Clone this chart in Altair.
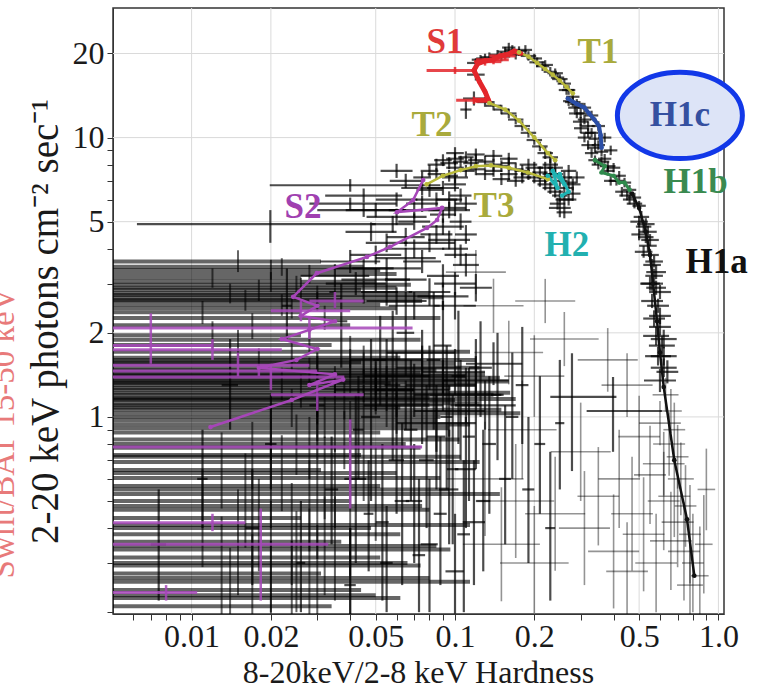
import altair as alt
import pandas as pd

FONT = "Liberation Serif"

# ---------------- axes ----------------
X_DOMAIN = [0.00503, 1.05]
Y_DOMAIN = [0.197, 29.1]
x_major = [0.01, 0.02, 0.05, 0.1, 0.2, 0.5, 1.0]
x_major_labels = ["0.01", "0.02", "0.05", "0.1", "0.2", "0.5", "1.0"]
x_minor = [0.006, 0.007, 0.008, 0.009, 0.03, 0.04, 0.06, 0.07, 0.08, 0.09,
           0.3, 0.4, 0.6, 0.7, 0.8, 0.9]
y_major = [1, 2, 5, 10, 20]
y_major_labels = ["1", "2", "5", "10", "20"]
y_minor = [0.2, 0.3, 0.4, 0.5, 0.6, 0.7, 0.8, 0.9, 3, 4, 6, 7, 8, 9]

# ---------------- black error-bar crosses ----------------
# (hardness, flux, x error factor, y error factor)
arc_crosses = [
    # S1 / T1 top of the arc
    (0.125, 19.0, 1.08, 1.04), (0.135, 19.4, 1.08, 1.04), (0.145, 19.8, 1.07, 1.04),
    (0.155, 20.3, 1.07, 1.04), (0.165, 20.6, 1.07, 1.04), (0.175, 20.4, 1.07, 1.04),
    (0.19, 19.6, 1.07, 1.04), (0.205, 18.6, 1.07, 1.04), (0.215, 18.0, 1.06, 1.04),
    (0.23, 17.2, 1.06, 1.04), (0.245, 16.4, 1.06, 1.04), (0.26, 15.6, 1.06, 1.04),
    (0.27, 14.8, 1.06, 1.04), (0.28, 14.0, 1.06, 1.04), (0.29, 13.2, 1.06, 1.04),
    (0.12, 18.5, 1.08, 1.04), (0.13, 19.2, 1.08, 1.04), (0.15, 19.5, 1.08, 1.04),
    (0.17, 19.8, 1.08, 1.04), (0.16, 21.0, 1.06, 1.04), (0.185, 20.6, 1.06, 1.04),
    (0.12, 16.8, 1.08, 1.05), (0.2, 19.2, 1.07, 1.04), (0.22, 18.2, 1.07, 1.04),
    (0.24, 17.0, 1.07, 1.04), (0.25, 16.2, 1.07, 1.04), (0.265, 14.8, 1.07, 1.04),
    # H1c band
    (0.27, 13.5, 1.05, 1.04), (0.285, 12.8, 1.06, 1.04), (0.30, 12.2, 1.06, 1.04),
    (0.31, 11.6, 1.06, 1.04), (0.32, 11.0, 1.06, 1.04), (0.33, 10.4, 1.06, 1.04),
    (0.34, 9.9, 1.06, 1.04), (0.35, 9.4, 1.06, 1.04), (0.36, 8.9, 1.06, 1.04),
    (0.37, 8.4, 1.06, 1.04), (0.30, 10.8, 1.06, 1.04), (0.31, 10.0, 1.06, 1.04),
    (0.32, 9.4, 1.06, 1.04), (0.33, 8.8, 1.06, 1.04), (0.34, 8.3, 1.06, 1.04),
    (0.31, 12.8, 1.06, 1.04), (0.33, 12.0, 1.06, 1.04), (0.35, 11.0, 1.06, 1.04),
    (0.37, 10.0, 1.06, 1.04), (0.39, 9.0, 1.06, 1.04), (0.35, 8.0, 1.06, 1.04),
    (0.38, 7.6, 1.06, 1.04), (0.28, 13.4, 1.07, 1.04), (0.29, 12.2, 1.07, 1.04),
    (0.3, 11.4, 1.07, 1.04), (0.32, 10.4, 1.07, 1.04), (0.34, 9.2, 1.07, 1.04),
    (0.36, 8.2, 1.07, 1.04), (0.38, 7.9, 1.07, 1.04),
    # H1b
    (0.40, 7.8, 1.06, 1.04), (0.42, 7.3, 1.06, 1.04), (0.44, 6.9, 1.06, 1.04),
    (0.46, 6.5, 1.06, 1.04), (0.48, 6.1, 1.06, 1.04), (0.50, 5.7, 1.06, 1.04),
    (0.43, 6.4, 1.06, 1.04), (0.46, 6.0, 1.06, 1.04), (0.39, 7.0, 1.06, 1.04),
    (0.41, 7.0, 1.07, 1.04), (0.45, 6.2, 1.07, 1.04), (0.48, 5.8, 1.07, 1.04),
    # H1a upper
    (0.51, 5.2, 1.07, 1.05), (0.52, 4.8, 1.07, 1.05), (0.53, 4.4, 1.07, 1.05),
    (0.54, 4.1, 1.08, 1.05), (0.55, 3.8, 1.08, 1.05), (0.56, 3.5, 1.08, 1.05),
    (0.50, 4.5, 1.07, 1.05), (0.52, 3.9, 1.08, 1.05), (0.57, 3.2, 1.08, 1.06),
    (0.55, 3.0, 1.09, 1.06), (0.58, 2.9, 1.09, 1.06), (0.56, 2.6, 1.1, 1.06),
    (0.59, 2.5, 1.1, 1.06), (0.57, 2.25, 1.1, 1.07), (0.60, 2.1, 1.1, 1.07),
    (0.58, 1.95, 1.12, 1.08), (0.61, 1.8, 1.12, 1.08), (0.59, 1.65, 1.12, 1.08),
    (0.62, 1.5, 1.12, 1.08), (0.64, 1.45, 1.1, 1.1), (0.60, 1.35, 1.15, 1.1),
    (0.53, 4.9, 1.08, 1.05), (0.54, 4.6, 1.08, 1.05), (0.5, 5.0, 1.08, 1.05),
    (0.55, 4.3, 1.08, 1.05), (0.57, 3.6, 1.08, 1.05), (0.58, 3.3, 1.09, 1.06),
    (0.56, 3.0, 1.1, 1.06), (0.6, 2.8, 1.1, 1.06), (0.6, 2.3, 1.1, 1.07),
    (0.62, 1.9, 1.12, 1.08), (0.62, 1.65, 1.12, 1.08),
    # T2
    (0.13, 13.4, 1.07, 1.04), (0.14, 13.0, 1.07, 1.04), (0.15, 12.6, 1.07, 1.04),
    (0.16, 12.2, 1.07, 1.04), (0.17, 11.6, 1.07, 1.04), (0.18, 11.0, 1.07, 1.04),
    (0.19, 10.4, 1.07, 1.04), (0.2, 9.8, 1.07, 1.04), (0.21, 9.3, 1.07, 1.04),
    (0.22, 8.8, 1.07, 1.05), (0.23, 8.5, 1.07, 1.05), (0.118, 13.8, 1.1, 1.06),
    (0.11, 12.6, 1.05, 1.08),
    # T3 / H2 arc
    (0.075, 7.2, 1.08, 1.05), (0.08, 7.6, 1.08, 1.05), (0.085, 8.0, 1.08, 1.05),
    (0.09, 8.3, 1.08, 1.05), (0.095, 8.1, 1.08, 1.05), (0.1, 8.4, 1.08, 1.05),
    (0.105, 8.2, 1.07, 1.05), (0.11, 8.5, 1.07, 1.05), (0.115, 8.1, 1.07, 1.05),
    (0.12, 8.3, 1.07, 1.05), (0.13, 8.2, 1.07, 1.05), (0.14, 8.0, 1.07, 1.05),
    (0.15, 7.9, 1.07, 1.05), (0.16, 8.1, 1.07, 1.05), (0.17, 7.7, 1.07, 1.05),
    (0.18, 7.6, 1.07, 1.05), (0.19, 7.4, 1.07, 1.05), (0.2, 7.2, 1.07, 1.05),
    (0.21, 7.5, 1.07, 1.05), (0.22, 7.8, 1.07, 1.05), (0.23, 8.0, 1.07, 1.05),
    (0.24, 7.4, 1.07, 1.05), (0.25, 7.0, 1.07, 1.05), (0.26, 6.6, 1.07, 1.05),
    (0.27, 6.9, 1.07, 1.05), (0.28, 6.3, 1.07, 1.06), (0.26, 6.0, 1.08, 1.06),
    (0.25, 5.6, 1.1, 1.08), (0.24, 6.4, 1.07, 1.05), (0.22, 6.8, 1.07, 1.05),
    (0.21, 7.0, 1.07, 1.05), (0.29, 7.2, 1.07, 1.05), (0.27, 7.6, 1.07, 1.05),
    (0.095, 7.3, 1.08, 1.05), (0.11, 7.6, 1.08, 1.05), (0.13, 7.4, 1.08, 1.05),
    (0.15, 7.1, 1.08, 1.05), (0.17, 7.0, 1.08, 1.05), (0.06, 7.6, 1.15, 1.06),
    (0.065, 7.0, 1.15, 1.06), (0.085, 7.4, 1.08, 1.05), (0.1, 7.8, 1.08, 1.05),
    (0.12, 7.7, 1.08, 1.05), (0.14, 7.6, 1.08, 1.05), (0.16, 7.4, 1.08, 1.05),
    (0.18, 7.2, 1.08, 1.05), (0.1, 8.8, 1.08, 1.05), (0.12, 8.7, 1.08, 1.05),
    (0.14, 8.6, 1.08, 1.05), (0.16, 8.4, 1.08, 1.05), (0.19, 8.0, 1.08, 1.05),
    (0.2, 7.8, 1.08, 1.05),
    # H2 cluster
    (0.22, 7.2, 1.07, 1.05), (0.23, 6.6, 1.07, 1.05), (0.24, 7.8, 1.07, 1.05),
    (0.25, 6.2, 1.07, 1.05), (0.26, 7.2, 1.07, 1.05), (0.27, 6.0, 1.07, 1.05),
    (0.28, 6.8, 1.07, 1.05), (0.23, 7.4, 1.07, 1.05), (0.245, 5.8, 1.07, 1.05),
    (0.26, 5.4, 1.07, 1.05),
    # S2 branch
    (0.1, 6.8, 1.1, 1.06), (0.105, 6.2, 1.1, 1.06), (0.1, 5.6, 1.1, 1.07),
    (0.105, 5.0, 1.1, 1.07), (0.11, 4.5, 1.1, 1.08), (0.1, 4.0, 1.12, 1.08),
    (0.095, 6.0, 1.12, 1.07), (0.09, 5.3, 1.12, 1.07), (0.085, 4.5, 1.15, 1.08),
    (0.08, 6.5, 1.12, 1.06), (0.075, 5.8, 1.15, 1.07), (0.07, 5.0, 1.15, 1.07),
    (0.065, 4.4, 1.18, 1.08), (0.06, 6.0, 1.2, 1.06), (0.058, 4.9, 1.2, 1.07),
    (0.055, 4.2, 1.2, 1.08), (0.05, 3.8, 1.25, 1.08), (0.048, 4.6, 1.25, 1.08),
    (0.045, 3.4, 1.3, 1.1), (0.04, 3.6, 1.3, 1.1), (0.042, 3.0, 1.3, 1.1),
    (0.035, 3.2, 1.35, 1.1), (0.11, 3.5, 1.12, 1.1), (0.09, 3.2, 1.15, 1.1),
    (0.075, 3.6, 1.18, 1.1), (0.065, 3.1, 1.2, 1.1), (0.08, 2.8, 1.2, 1.12),
    (0.12, 2.9, 1.15, 1.12), (0.1, 2.5, 1.2, 1.12), (0.07, 2.5, 1.25, 1.12),
    (0.055, 2.8, 1.25, 1.12), (0.05, 5.5, 1.3, 1.06), (0.045, 6.2, 1.4, 1.06),
    (0.07, 4.0, 1.3, 1.08), (0.08, 4.2, 1.25, 1.08), (0.09, 4.8, 1.2, 1.07),
    (0.095, 5.5, 1.2, 1.07), (0.085, 6.0, 1.2, 1.06), (0.075, 6.6, 1.2, 1.06),
    (0.07, 5.5, 1.25, 1.07), (0.06, 5.2, 1.3, 1.07), (0.065, 3.7, 1.3, 1.09),
    (0.055, 3.4, 1.35, 1.09), (0.05, 3.1, 1.35, 1.1), (0.045, 2.8, 1.35, 1.1),
    (0.06, 2.6, 1.3, 1.12), (0.09, 2.7, 1.25, 1.12), (0.1, 3.0, 1.2, 1.1),
    (0.105, 3.8, 1.15, 1.09), (0.095, 4.3, 1.2, 1.08), (0.11, 5.8, 1.1, 1.06),
    (0.1, 7.2, 1.12, 1.05), (0.09, 6.6, 1.15, 1.06),
]

# faint, large-error crosses: H1a tail and the hard low-flux region
sparse_crosses = [
    (0.63, 1.2, 1.12, 1.15), (0.66, 1.05, 1.1, 1.2), (0.6, 0.95, 1.2, 1.2),
    (0.68, 0.9, 1.1, 1.25), (0.65, 0.8, 1.15, 1.3), (0.7, 0.72, 1.1, 1.3),
    (0.62, 0.68, 1.2, 1.3), (0.72, 0.6, 1.12, 1.35), (0.68, 0.52, 1.15, 1.4),
    (0.75, 0.48, 1.1, 1.4), (0.7, 0.42, 1.15, 1.45), (0.78, 0.38, 1.1, 1.5),
    (0.74, 0.33, 1.15, 1.5), (0.8, 0.3, 1.1, 1.5), (0.85, 0.27, 1.08, 1.5),
    (0.66, 0.36, 1.2, 1.5), (0.78, 0.25, 1.12, 1.4),
    (0.24, 0.45, 1.3, 1.6), (0.31, 0.40, 1.25, 1.6), (0.35, 0.52, 1.2, 1.5),
    (0.40, 0.33, 1.25, 1.6), (0.42, 0.6, 1.2, 1.5), (0.45, 0.28, 1.2, 1.5),
    (0.47, 0.45, 1.2, 1.6), (0.52, 0.38, 1.2, 1.6), (0.55, 0.62, 1.15, 1.5),
    (0.58, 0.3, 1.2, 1.5), (0.62, 0.5, 1.15, 1.5), (0.88, 0.35, 1.08, 1.5),
    (0.9, 0.55, 1.08, 1.4), (0.5, 0.85, 1.2, 1.4), (0.45, 1.3, 1.25, 1.3),
    (0.38, 1.6, 1.3, 1.3), (0.3, 0.75, 1.3, 1.5), (0.26, 1.9, 1.35, 1.25),
    (0.22, 2.6, 1.3, 1.2), (0.2, 1.4, 1.3, 1.4), (0.18, 0.9, 1.35, 1.5),
    (0.17, 0.5, 1.4, 1.6), (0.2, 0.3, 1.35, 1.6), (0.15, 0.35, 1.4, 1.6),
    (0.13, 0.6, 1.4, 1.6), (0.16, 1.7, 1.35, 1.3), (0.14, 2.5, 1.3, 1.25),
    (0.12, 3.3, 1.3, 1.2),
]

# (hardness, flux, x low, x high, y low, y high)
cloud_crosses = [
    (0.04, 6.75, 0.0198, 0.088, 6.4, 7.1), (0.0199, 4.9, 0.0062, 0.05, 4.2, 5.5),
    (0.04, 5.8, 0.028, 0.06, 5.5, 6.1), (0.045, 5.5, 0.03, 0.065, 5.2, 5.8),
    (0.278, 1.18, 0.23, 0.41, 0.64, 1.69), (0.398, 1.05, 0.316, 0.61, 0.75, 1.39),
    (0.0075, 0.35, 0.007, 0.008, 0.22, 0.55), (0.011, 0.6, 0.0105, 0.0115, 0.4, 0.9),
    (0.014, 1.3, 0.013, 0.015, 0.9, 1.9), (0.017, 0.4, 0.016, 0.018, 0.25, 0.65),
    (0.02, 0.8, 0.019, 0.021, 0.55, 1.2), (0.023, 2.5, 0.022, 0.024, 1.9, 3.4),
    (0.026, 0.3, 0.025, 0.027, 0.2, 0.5), (0.03, 1.1, 0.028, 0.032, 0.7, 1.7),
    (0.034, 0.55, 0.032, 0.036, 0.35, 0.85), (0.037, 2.2, 0.035, 0.039, 1.5, 3.0),
    (0.04, 0.25, 0.038, 0.042, 0.19, 0.4), (0.043, 0.9, 0.041, 0.045, 0.6, 1.4),
    (0.047, 0.45, 0.045, 0.049, 0.28, 0.7), (0.052, 1.6, 0.049, 0.055, 1.1, 2.3),
    (0.055, 0.3, 0.052, 0.058, 0.2, 0.48), (0.06, 0.7, 0.056, 0.064, 0.45, 1.1),
    (0.065, 2.0, 0.06, 0.07, 1.4, 2.8), (0.07, 0.5, 0.065, 0.075, 0.3, 0.8),
    (0.075, 1.2, 0.07, 0.08, 0.8, 1.8), (0.08, 0.35, 0.074, 0.086, 0.2, 0.6),
    (0.085, 0.85, 0.078, 0.092, 0.55, 1.3), (0.09, 1.8, 0.083, 0.097, 1.2, 2.6),
    (0.095, 0.55, 0.087, 0.103, 0.35, 0.9), (0.1, 0.28, 0.092, 0.108, 0.19, 0.45),
    (0.105, 1.1, 0.096, 0.114, 0.7, 1.6), (0.11, 0.65, 0.1, 0.12, 0.4, 1.0),
    (0.118, 0.42, 0.107, 0.13, 0.25, 0.7), (0.125, 1.5, 0.113, 0.138, 1.0, 2.2),
    (0.06, 1.4, 0.045, 0.08, 1.15, 1.7), (0.07, 1.25, 0.05, 0.095, 1.0, 1.55),
    (0.08, 1.5, 0.06, 0.105, 1.25, 1.8), (0.09, 1.3, 0.065, 0.12, 1.05, 1.6),
    (0.1, 1.45, 0.075, 0.13, 1.2, 1.75), (0.11, 1.2, 0.08, 0.15, 0.95, 1.5),
    (0.065, 1.1, 0.045, 0.09, 0.9, 1.35), (0.055, 1.6, 0.04, 0.075, 1.35, 1.9),
    (0.075, 1.7, 0.055, 0.1, 1.4, 2.05), (0.12, 1.35, 0.09, 0.16, 1.1, 1.65),
    (0.095, 1.05, 0.07, 0.13, 0.85, 1.3), (0.13, 1.1, 0.1, 0.17, 0.9, 1.35),
    (0.05, 1.25, 0.035, 0.07, 1.05, 1.5), (0.085, 0.95, 0.06, 0.12, 0.75, 1.2),
    (0.14, 1.55, 0.11, 0.18, 1.3, 1.85),
    (0.042, 0.6, 0.038, 0.046, 0.3, 1.2), (0.048, 1.0, 0.044, 0.052, 0.5, 1.9),
    (0.053, 0.42, 0.05, 0.056, 0.22, 0.8), (0.058, 1.3, 0.054, 0.062, 0.7, 2.4),
    (0.063, 0.5, 0.059, 0.067, 0.25, 0.95), (0.068, 0.9, 0.064, 0.072, 0.5, 1.6),
    (0.073, 0.32, 0.069, 0.077, 0.2, 0.6), (0.078, 0.7, 0.073, 0.083, 0.4, 1.3),
    (0.083, 1.6, 0.078, 0.088, 0.9, 2.8), (0.088, 0.45, 0.083, 0.093, 0.25, 0.85),
    (0.093, 1.0, 0.088, 0.098, 0.55, 1.8), (0.098, 0.65, 0.093, 0.103, 0.35, 1.2),
    (0.103, 1.4, 0.097, 0.109, 0.8, 2.4), (0.108, 0.38, 0.102, 0.114, 0.2, 0.7),
    (0.113, 0.85, 0.107, 0.119, 0.5, 1.5), (0.12, 1.1, 0.114, 0.126, 0.65, 1.9),
    (0.128, 0.5, 0.12, 0.136, 0.28, 0.9), (0.135, 0.8, 0.127, 0.143, 0.45, 1.4),
    (0.145, 1.2, 0.137, 0.153, 0.7, 2.0), (0.155, 0.6, 0.147, 0.163, 0.35, 1.1),
    (0.165, 1.0, 0.156, 0.174, 0.6, 1.7), (0.18, 1.3, 0.17, 0.19, 0.8, 2.1),
    (0.19, 0.55, 0.18, 0.2, 0.3, 1.0), (0.21, 0.8, 0.2, 0.22, 0.45, 1.4),
    (0.23, 0.4, 0.22, 0.24, 0.22, 0.75), (0.25, 0.95, 0.24, 0.26, 0.55, 1.6),
]

# soft-state rows whose left ends lie beyond the axis: (hardness, flux, x high, y low, y high)
BAND_LEFT = 0.004
band_rows = [
    (0.015, 3.6, 0.031, 3.3, 3.95), (0.02, 3.36, 0.052, 3.1, 3.65),
    (0.012, 3.14, 0.026, 2.9, 3.4), (0.025, 2.97, 0.068, 2.75, 3.2),
    (0.018, 2.85, 0.044, 2.6, 3.1), (0.03, 2.73, 0.08, 2.5, 2.95),
    (0.016, 2.62, 0.037, 2.4, 2.85), (0.022, 2.52, 0.052, 2.3, 2.75),
    (0.011, 2.37, 0.026, 2.15, 2.6), (0.032, 2.26, 0.088, 2.05, 2.5),
    (0.017, 2.13, 0.04, 1.9, 2.35), (0.012, 1.96, 0.026, 1.75, 2.2),
    (0.028, 1.89, 0.074, 1.7, 2.1), (0.015, 1.81, 0.034, 1.6, 2.05),
    (0.04, 1.71, 0.114, 1.5, 1.95), (0.024, 1.63, 0.062, 1.45, 1.85),
    (0.018, 1.57, 0.044, 1.4, 1.76), (0.045, 1.50, 0.124, 1.32, 1.7),
    (0.028, 1.44, 0.074, 1.27, 1.63), (0.05, 1.38, 0.148, 1.2, 1.58),
    (0.022, 1.32, 0.057, 1.15, 1.5), (0.035, 1.27, 0.096, 1.1, 1.45),
    (0.055, 1.22, 0.162, 1.05, 1.4), (0.03, 1.17, 0.08, 1.0, 1.35),
    (0.045, 1.12, 0.124, 0.95, 1.3), (0.024, 1.08, 0.062, 0.92, 1.26),
    (0.06, 1.03, 0.177, 0.87, 1.22), (0.032, 1.0, 0.088, 0.84, 1.18),
    (0.04, 0.94, 0.114, 0.77, 1.14), (0.02, 0.88, 0.052, 0.7, 1.1),
    (0.038, 0.83, 0.104, 0.65, 1.05), (0.028, 0.775, 0.074, 0.6, 1.0),
    (0.017, 0.73, 0.044, 0.55, 0.96), (0.045, 0.69, 0.124, 0.5, 0.95),
    (0.013, 0.646, 0.031, 0.47, 0.88), (0.032, 0.605, 0.088, 0.43, 0.85),
    (0.02, 0.566, 0.052, 0.4, 0.8), (0.05, 0.53, 0.148, 0.36, 0.78),
    (0.016, 0.50, 0.04, 0.34, 0.74), (0.03, 0.465, 0.08, 0.31, 0.7),
    (0.011, 0.435, 0.026, 0.29, 0.65), (0.04, 0.41, 0.114, 0.27, 0.62),
    (0.024, 0.38, 0.062, 0.25, 0.58), (0.015, 0.357, 0.037, 0.23, 0.55),
    (0.035, 0.335, 0.096, 0.22, 0.52), (0.02, 0.314, 0.052, 0.2, 0.5),
    (0.028, 0.294, 0.074, 0.19, 0.47), (0.013, 0.275, 0.031, 0.18, 0.44),
    (0.04, 0.257, 0.114, 0.17, 0.4), (0.017, 0.24, 0.044, 0.16, 0.38),
    (0.024, 0.225, 0.062, 0.15, 0.36), (0.014, 0.21, 0.034, 0.14, 0.34),
    (0.02, 3.05, 0.05, 2.8, 3.3), (0.026, 2.9, 0.06, 2.65, 3.15),
    (0.014, 2.78, 0.035, 2.55, 3.0), (0.035, 2.68, 0.09, 2.45, 2.9),
    (0.04, 1.55, 0.1, 1.38, 1.75), (0.03, 1.47, 0.085, 1.3, 1.65),
    (0.05, 1.42, 0.13, 1.25, 1.6), (0.035, 1.35, 0.1, 1.18, 1.52),
    (0.045, 1.3, 0.12, 1.13, 1.48), (0.026, 1.25, 0.07, 1.08, 1.42),
    (0.05, 1.2, 0.14, 1.02, 1.38), (0.038, 1.15, 0.1, 0.98, 1.32),
    (0.03, 1.1, 0.08, 0.94, 1.28), (0.028, 3.25, 0.06, 3.0, 3.5),
    (0.022, 3.45, 0.045, 3.2, 3.7), (0.03, 2.6, 0.075, 2.4, 2.8),
    (0.024, 2.45, 0.06, 2.25, 2.65), (0.045, 1.6, 0.12, 1.42, 1.8),
    (0.055, 1.34, 0.16, 1.18, 1.52), (0.06, 1.16, 0.17, 1.0, 1.33),
    (0.055, 1.06, 0.15, 0.92, 1.22), (0.04, 1.4, 0.11, 1.22, 1.6),
    (0.03, 0.97, 0.085, 0.82, 1.15), (0.035, 0.91, 0.095, 0.75, 1.1),
    (0.025, 0.8, 0.065, 0.62, 1.02), (0.04, 0.72, 0.105, 0.55, 0.95),
    (0.022, 0.63, 0.06, 0.46, 0.86), (0.035, 0.55, 0.095, 0.4, 0.78),
    (0.028, 0.48, 0.075, 0.33, 0.7), (0.018, 0.4, 0.048, 0.28, 0.6),
    (0.032, 0.345, 0.085, 0.23, 0.52), (0.025, 0.3, 0.066, 0.2, 0.46),
    (0.03, 0.265, 0.08, 0.18, 0.41), (0.02, 0.23, 0.05, 0.16, 0.36),
]

# ---------------- coloured state tracks ----------------
track_S1 = [(0.178, 20.0), (0.168, 20.4), (0.158, 19.8), (0.148, 19.6), (0.14, 19.0),
            (0.13, 18.8), (0.122, 18.4), (0.118, 17.4), (0.124, 15.8), (0.13, 14.6),
            (0.134, 13.6), (0.12, 13.6)]
track_T1 = [(0.175, 20.2), (0.19, 19.5), (0.205, 18.5), (0.22, 17.6), (0.235, 16.8),
            (0.25, 16.0), (0.265, 15.2), (0.28, 14.4)]
track_H1c = [(0.268, 13.8), (0.29, 13.2), (0.31, 12.8), (0.323, 12.2), (0.338, 11.6),
             (0.352, 11.0), (0.357, 10.2), (0.36, 9.2)]
track_H1b = [(0.34, 8.3), (0.37, 7.9), (0.36, 7.5), (0.4, 7.3), (0.42, 6.9),
             (0.44, 6.9), (0.46, 6.5)]
track_H1a = [(0.47, 6.3), (0.5, 5.6), (0.53, 4.6), (0.55, 3.8), (0.565, 3.0),
             (0.585, 2.2), (0.6, 1.7), (0.62, 1.28), (0.68, 0.7), (0.76, 0.43),
             (0.81, 0.27)]
track_T2 = [(0.135, 13.3), (0.155, 12.6), (0.175, 11.5), (0.2, 10.0), (0.225, 8.8),
            (0.24, 8.3)]
track_T3 = [(0.078, 6.8), (0.09, 7.3), (0.105, 7.65), (0.12, 7.9), (0.137, 7.95),
            (0.16, 7.8), (0.189, 7.5), (0.225, 7.1)]
track_H2 = [(0.225, 7.3), (0.245, 6.6), (0.235, 7.6), (0.26, 6.8), (0.25, 7.4),
            (0.27, 6.4), (0.255, 6.2)]
track_S2 = [(0.0757, 7.05), (0.0693, 5.97), (0.0603, 5.41), (0.0893, 5.6), (0.0855, 5.07),
            (0.0783, 4.75), (0.0567, 4.06), (0.0463, 3.74), (0.0299, 3.27), (0.0243, 2.69),
            (0.03, 2.5), (0.026, 2.3), (0.035, 2.2), (0.028, 2.05), (0.022, 1.9),
            (0.03, 1.75), (0.025, 1.6), (0.018, 1.5), (0.035, 1.42), (0.028, 1.3),
            (0.0376, 1.36), (0.024, 1.15), (0.0118, 0.92)]

# coloured error bars: (hardness, flux, x low, x high, y low, y high)
bars_S1 = [(0.1, 17.4, 0.078, 0.118, 16.9, 17.9), (0.118, 13.6, 0.101, 0.135, 13.2, 14.0),
           (0.14, 19.0, 0.12, 0.16, 18.3, 19.7), (0.155, 19.6, 0.135, 0.17, 19.0, 20.2),
           (0.13, 18.7, 0.118, 0.15, 18.1, 19.3)]
bars_S2 = [(0.028, 2.08, 0.004, 0.069, 1.9, 2.3), (0.015, 1.53, 0.004, 0.028, 1.4, 1.7),
           (0.02, 1.39, 0.004, 0.038, 1.25, 1.55), (0.012, 1.74, 0.004, 0.022, 1.6, 1.9),
           (0.04, 0.78, 0.004, 0.075, 0.47, 0.98), (0.0183, 0.35, 0.004, 0.033, 0.22, 0.47),
           (0.012, 0.418, 0.004, 0.016, 0.39, 0.45), (0.008, 0.235, 0.004, 0.0105, 0.22, 0.25),
           (0.007, 1.8, 0.004, 0.012, 1.55, 2.35), (0.03, 1.2, 0.02, 0.045, 1.05, 1.35),
           (0.026, 2.4, 0.02, 0.04, 2.2, 2.6), (0.035, 2.6, 0.028, 0.045, 2.45, 2.8),
           (0.018, 1.46, 0.004, 0.03, 1.4, 1.52)]

track_names = ["S1", "T1", "H1c", "H1b", "H1a", "T2", "T3", "H2", "S2"]
track_colors = ["#e3262b", "#b9b93a", "#2b4ea6", "#2f8a4c", "#111111", "#b9b93a",
                "#b9b93a", "#1fb3b3", "#a646b8"]
track_widths = [5, 2.5, 4, 3, 2.5, 2.5, 2.5, 3, 2.5]
tracks = [track_S1, track_T1, track_H1c, track_H1b, track_H1a, track_T2, track_T3,
          track_H2, track_S2]

# ---------------- state labels ----------------
label_text = ["S1", "T1", "H1c", "T2", "H1b", "S2", "T3", "H2", "H1a"]
label_x = [0.0917, 0.349, 0.714, 0.0818, 0.82, 0.0265, 0.1406, 0.266, 0.985]
label_y = [22.0, 20.2, 12.0, 11.1, 6.93, 5.64, 5.69, 4.12, 3.59]
label_color = ["#e03a3a", "#a9aa3c", "#3550a0", "#a9aa3c", "#3a8a50", "#a040b0",
               "#a9aa3c", "#22b0b0", "#111111"]
highlight_x = [0.714]
highlight_y = [12.0]

# ---------------- data frames ----------------
def sym_rows(pts):
    return [dict(x=x, y=y, xlo=x / fx, xhi=x * fx, ylo=y / fy, yhi=y * fy)
            for x, y, fx, fy in pts]


rows = sym_rows(arc_crosses)
for x, y, xlo, xhi, ylo, yhi in cloud_crosses:
    rows.append(dict(x=x, y=y, xlo=xlo, xhi=xhi, ylo=ylo, yhi=yhi))
cross_df = pd.DataFrame(rows)
sparse_df = pd.DataFrame(sym_rows(sparse_crosses))
band_df = pd.DataFrame([dict(x=x, y=y, xlo=BAND_LEFT, xhi=xhi, ylo=ylo, yhi=yhi)
                        for x, y, xhi, ylo, yhi in band_rows])

trows = []
for name, pts, w in zip(track_names, tracks, track_widths):
    for i, (x, y) in enumerate(pts):
        trows.append(dict(track=name, order=i, x=x, y=y, w=w))
track_df = pd.DataFrame(trows)

crows = []
for col, bars in (("#e3262b", bars_S1), ("#a646b8", bars_S2)):
    for x, y, xlo, xhi, ylo, yhi in bars:
        crows.append(dict(x=x, y=y, xlo=xlo, xhi=xhi, ylo=ylo, yhi=yhi, color=col))
cbar_df = pd.DataFrame(crows)

label_df = pd.DataFrame(dict(label=label_text, x=label_x, y=label_y, color=label_color))
hl_df = pd.DataFrame(dict(x=highlight_x, y=highlight_y))
xgrid_df = pd.DataFrame(dict(v=x_major))
ygrid_df = pd.DataFrame(dict(v=y_major))


def label_expr(vals, labels):
    expr = "''"
    for v, l in zip(vals, labels):
        expr = f"datum.value == {v} ? '{l}' : ({expr})"
    return expr


xs = alt.Scale(type="log", domain=X_DOMAIN, nice=False)
ys = alt.Scale(type="log", domain=Y_DOMAIN, nice=False)

common_axis = dict(grid=False, tickSize=6, tickWidth=1, tickColor="#333", domainColor="#333",
                   labelFont=FONT, labelFontSize=32, labelColor="#1a1a1a",
                   titleFont=FONT, titleFontWeight="normal",
                   titleColor="#1a1a1a", labelOverlap=False, labelFlush=False)
x_axis = alt.Axis(values=sorted(x_major + x_minor),
                  labelExpr=label_expr(x_major, x_major_labels),
                  title="8-20keV/2-8 keV Hardness", labelPadding=1, titleFontSize=32,
                  titleX=305, titleY=58, titleBaseline="middle", titleAlign="center",
                  **common_axis)
y_axis = alt.Axis(values=sorted(y_major + y_minor),
                  labelExpr=label_expr(y_major, y_major_labels),
                  title="2-20 keV photons cm\u207b\u00b2 sec\u207b\u00b9", labelPadding=3,
                  titleFontSize=39,
                  titleX=-68, titleY=313, titleAngle=270, titleBaseline="middle",
                  titleAlign="center", **common_axis)

X = lambda f: alt.X(f, scale=xs, axis=x_axis)
Y = lambda f: alt.Y(f, scale=ys, axis=y_axis)

xgrid = alt.Chart(xgrid_df).mark_rule(color="#dadada", strokeWidth=1).encode(x=X("v:Q"))
ygrid = alt.Chart(ygrid_df).mark_rule(color="#dadada", strokeWidth=1).encode(y=Y("v:Q"))


def crosses(df, opacity, width_h, width_v):
    h = alt.Chart(df).mark_rule(color="black", opacity=opacity, strokeWidth=width_h,
                                clip=True).encode(x=X("xlo:Q"), x2="xhi:Q", y=Y("y:Q"))
    v = alt.Chart(df).mark_rule(color="black", opacity=opacity, strokeWidth=width_v,
                                clip=True).encode(x=X("x:Q"), y=Y("ylo:Q"), y2="yhi:Q")
    return [h, v]


band_layers = crosses(band_df, 0.6, 4, 2)
sparse_layers = crosses(sparse_df, 0.42, 1.6, 1.6)
cross_layers = crosses(cross_df, 0.7, 2.2, 2.2)

chbar = alt.Chart(cbar_df).mark_rule(strokeWidth=3, opacity=0.85, clip=True).encode(
    x=X("xlo:Q"), x2="xhi:Q", y=Y("y:Q"), color=alt.Color("color:N", scale=None))
cvbar = alt.Chart(cbar_df).mark_rule(strokeWidth=2.5, opacity=0.85, clip=True).encode(
    x=X("x:Q"), y=Y("ylo:Q"), y2="yhi:Q", color=alt.Color("color:N", scale=None))

tcolor = alt.Color("track:N", scale=alt.Scale(domain=track_names, range=track_colors), legend=None)
tline = alt.Chart(track_df).mark_line(clip=True).encode(
    x=X("x:Q"), y=Y("y:Q"), color=tcolor, detail="track:N", order="order:Q",
    strokeWidth=alt.StrokeWidth("w:Q", scale=None))
tpts = alt.Chart(track_df).mark_point(filled=True, size=22, opacity=1, clip=True).encode(
    x=X("x:Q"), y=Y("y:Q"), color=tcolor)

ellipse_path = "M -1 0 A 1 0.69 0 1 0 1 0 A 1 0.69 0 1 0 -1 0 Z"
hl = alt.Chart(hl_df).mark_point(shape=ellipse_path, size=15625, filled=True, color="#dde4f7",
                                 stroke="#1238e8", strokeWidth=5, opacity=1,
                                 fillOpacity=1, strokeOpacity=1).encode(x=X("x:Q"), y=Y("y:Q"))

labels = alt.Chart(label_df).mark_text(font=FONT, fontSize=35, fontWeight="bold").encode(
    x=X("x:Q"), y=Y("y:Q"), text="label:N", color=alt.Color("color:N", scale=None))

swift = alt.Chart(pd.DataFrame(dict(t=["Swift/BAT 15-50 keV"]))).mark_text(
    angle=270, align="center", baseline="alphabetic", font=FONT, fontSize=33,
    color="#e87a7a").encode(text="t:N", x=alt.value(-99), y=alt.value(425))

chart = alt.layer(xgrid, ygrid, *band_layers, *sparse_layers, *cross_layers, chbar, cvbar,
                  tline, tpts, hl, labels, swift).properties(
    width=611, height=606,
    autosize=alt.AutoSizeParams(type="none"),
    padding={"left": 113, "top": 8, "right": 47, "bottom": 75},
).configure(font=FONT).configure_axis(labelFont=FONT, titleFont=FONT).configure_view(
    stroke="#333", strokeWidth=1.5)

chart.save("out.html", embed_options={"renderer": "svg", "actions": False})
